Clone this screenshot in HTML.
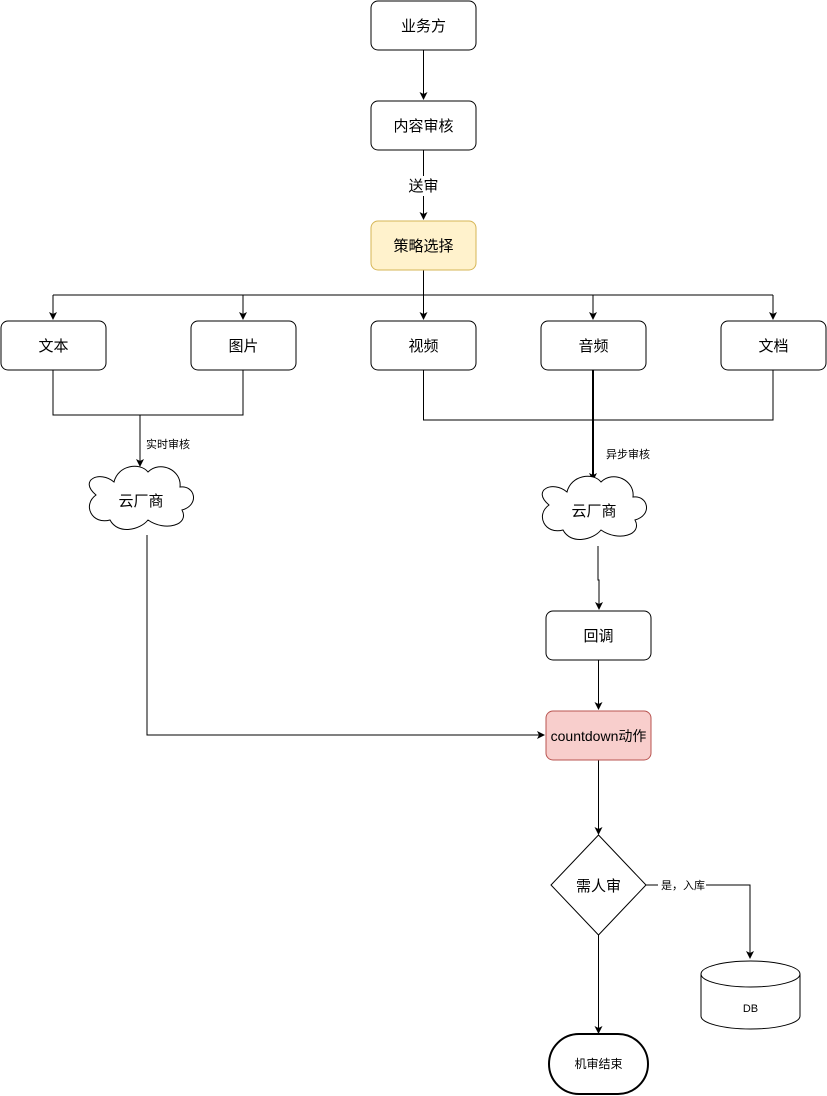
<!DOCTYPE html>
<html><head><meta charset="utf-8"><style>
html,body{margin:0;padding:0;background:#fff;}
svg{display:block;}
text{font-family:"Liberation Sans","Noto Sans CJK SC",sans-serif;fill:#000;}
</style></head><body>
<svg width="827" height="1096" viewBox="0 0 827 1096" xmlns="http://www.w3.org/2000/svg">
<defs>
<marker id="a" markerWidth="10" markerHeight="10" refX="8" refY="5" orient="auto" markerUnits="userSpaceOnUse">
<path d="M1,1 L9,5 L1,9 L3,5 Z" fill="#000"/>
</marker>
</defs>
<g fill="none" stroke="#000" stroke-width="1">
<line x1="423.5" y1="50" x2="423.5" y2="99" marker-end="url(#a)"/>
<line x1="423.5" y1="150" x2="423.5" y2="219" marker-end="url(#a)"/>
<line x1="423.5" y1="270" x2="423.5" y2="295"/>
<line x1="53" y1="295" x2="773" y2="295"/>
<line x1="53" y1="295" x2="53" y2="319" marker-end="url(#a)"/>
<line x1="243" y1="295" x2="243" y2="319" marker-end="url(#a)"/>
<line x1="423.5" y1="295" x2="423.5" y2="319" marker-end="url(#a)"/>
<line x1="593" y1="295" x2="593" y2="319" marker-end="url(#a)"/>
<line x1="773" y1="295" x2="773" y2="319" marker-end="url(#a)"/>
<polyline points="53,370 53,415 243,415 243,370"/>
<line x1="140" y1="415" x2="140" y2="466" marker-end="url(#a)"/>
<polyline points="423.5,370 423.5,420 773,420 773,370"/>
<line x1="593" y1="370" x2="593" y2="480" stroke-width="2" marker-end="url(#a)"/>
<polyline points="598,546 598,580 599,580 599,609" marker-end="url(#a)"/>
<line x1="598.5" y1="660" x2="598.5" y2="709" marker-end="url(#a)"/>
<polyline points="147,535 147,735 544,735" marker-end="url(#a)"/>
<line x1="598.5" y1="760" x2="598.5" y2="834" marker-end="url(#a)"/>
<polyline points="646,885 750,885 750,958" marker-end="url(#a)"/>
<line x1="598.5" y1="935" x2="598.5" y2="1033" marker-end="url(#a)"/>
</g>
<g stroke="#000" stroke-width="1" fill="#fff">
<rect x="371" y="1" width="105" height="49" rx="7"/>
<rect x="371" y="101" width="105" height="49" rx="7"/>
<rect x="371" y="221" width="105" height="49" rx="7" fill="#fff2cc" stroke="#d6b656"/>
<rect x="1" y="321" width="105" height="49" rx="7"/>
<rect x="191" y="321" width="105" height="49" rx="7"/>
<rect x="371" y="321" width="105" height="49" rx="7"/>
<rect x="541" y="321" width="105" height="49" rx="7"/>
<rect x="721" y="321" width="105" height="49" rx="7"/>
<rect x="546" y="611" width="105" height="49" rx="7"/>
<rect x="546" y="711" width="105" height="49" rx="7" fill="#f8cecc" stroke="#b85450"/>
<polygon points="598.5,835 646,885 598.5,935 551,885"/>
<rect x="549" y="1034" width="99" height="60" rx="30" stroke-width="2"/>
<path d="M701,974 A49.5,13 0 0 1 800,974 L800,1016 A49.5,13 0 0 1 701,1016 Z"/>
<path d="M701,974 A49.5,13 0 0 0 800,974" fill="none"/>
<path d="M114,482 C100,470 78,480 96,495 C82,505 92,525 110,520 C118,535 140,530 148,520 C165,532 190,525 182,510 C200,505 195,485 180,487 C182,470 160,460 148,472 C140,462 118,465 114,482 Z"/>
<path d="M567,492 C553,480 531,490 549,505 C535,515 545,535 563,530 C571,545 593,540 601,530 C618,542 643,535 635,520 C653,515 648,495 633,497 C635,480 613,470 601,482 C593,472 571,475 567,492 Z"/>
</g>
<rect x="403" y="176" width="40" height="20" fill="#fff"/>
<g font-size="15" text-anchor="middle">
<text x="423.5" y="31">业务方</text>
<text x="423.5" y="131">内容审核</text>
<text x="423.5" y="191">送审</text>
<text x="423.5" y="251">策略选择</text>
<text x="53.5" y="351">文本</text>
<text x="243.5" y="351">图片</text>
<text x="423.5" y="351">视频</text>
<text x="593.5" y="351">音频</text>
<text x="773.5" y="351">文档</text>
<text x="141" y="506">云厂商</text>
<text x="594" y="516">云厂商</text>
<text x="598.5" y="641">回调</text>
<text x="598.5" y="741" font-size="14">countdown动作</text>
<text x="598.5" y="891">需人审</text>
</g>
<g font-size="11">
<text x="146" y="448">实时审核</text>
<text x="606" y="458">异步审核</text>
<rect x="658" y="878" width="48" height="14" fill="#fff"/>
<text x="661" y="889">是，入库</text>
<text x="750.5" y="1012" text-anchor="middle">DB</text>
<text x="598.5" y="1068" text-anchor="middle" font-size="12">机审结束</text>
</g>
</svg>
</body></html>
